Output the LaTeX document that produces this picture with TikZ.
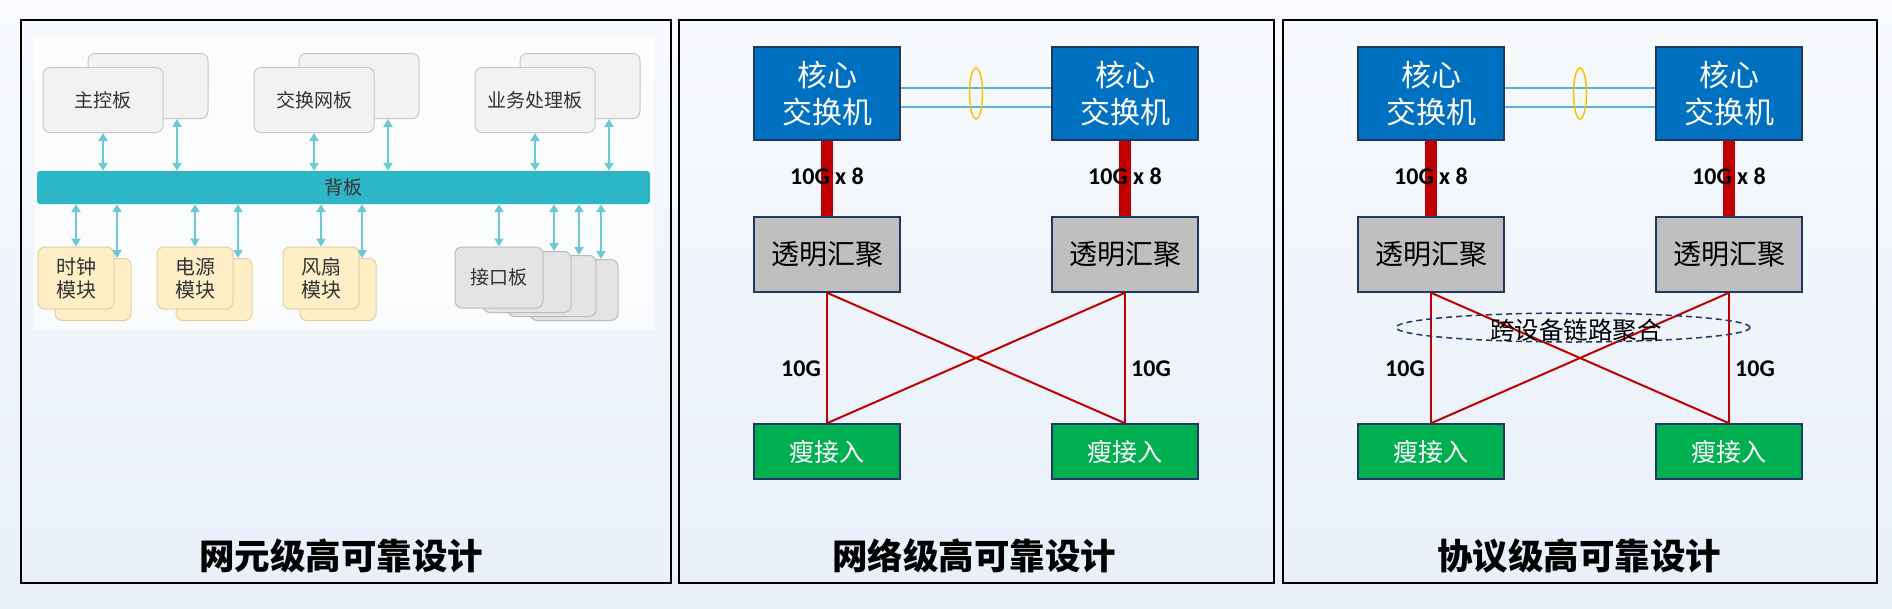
\documentclass[tikz,border=0pt]{standalone}
\usepackage{fontspec}
\setmainfont{Noto Sans CJK SC}
\newfontfamily\ratefont{Carlito}
\usepackage{tikz}
\usetikzlibrary{arrows.meta, shapes.geometric, calc}
\usepackage{xcolor}
\definecolor{bgtop}{HTML}{F8FAFD}
\definecolor{bgbot}{HTML}{E8EFF8}
\definecolor{cardfill}{HTML}{F2F2F2}
\definecolor{cardline}{HTML}{C8C8C8}
\definecolor{cardtext}{HTML}{333333}
\definecolor{modfill}{HTML}{FFEFC6}
\definecolor{modline}{HTML}{E3CF9E}
\definecolor{portfill}{HTML}{E4E4E4}
\definecolor{portline}{HTML}{BBBBBB}
\definecolor{busteal}{HTML}{6CC9D4}
\definecolor{bpteal}{HTML}{2DB6C8}
\definecolor{corebl}{HTML}{0070C0}
\definecolor{navy}{HTML}{1F3864}
\definecolor{agggray}{HTML}{BFBFBF}
\definecolor{accgreen}{HTML}{00B050}
\definecolor{linkred}{HTML}{C00000}
\definecolor{linkblue}{HTML}{5BB0E0}
\definecolor{lagyellow}{HTML}{FFC000}

\begin{document}
\begin{tikzpicture}[x=1pt, y=-1pt,
    panel/.style={draw=black, line width=1.6pt},
    board/.style={draw=cardline, fill=cardfill, rounded corners=7pt, line width=1pt,
      minimum width=120pt, minimum height=65pt, inner sep=0pt, text=cardtext,
      font=\fontsize{19}{23}\selectfont, align=center},
    module/.style={board, draw=modline, fill=modfill, minimum width=76pt, minimum height=62pt,
      font=\fontsize{20}{23}\selectfont},
    port/.style={board, draw=portline, fill=portfill, minimum width=88pt, minimum height=61pt},
    bus/.style={{Triangle[length=8pt,width=9pt]}-{Triangle[length=8pt,width=9pt]},
      draw=busteal, line width=2.5pt},
    dev/.style={draw=navy, line width=1.5pt, minimum width=146pt, inner sep=0pt,
      font=\fontsize{28}{34}\selectfont, align=center},
    core/.style={dev, fill=corebl, text=white, minimum height=93pt, font=\fontsize{30}{37}\selectfont},
    agg/.style={dev, fill=agggray, minimum height=75pt},
    acc/.style={dev, fill=accgreen, text=white, minimum height=55pt, font=\fontsize{25}{30}\selectfont},
    trunk/.style={draw=linkred, line width=12pt},
    uplink/.style={draw=linkred, line width=2pt},
    peer/.style={draw=linkblue, line width=1.5pt},
    lag/.style={ellipse, draw=lagyellow, line width=1.5pt, minimum width=13pt, minimum height=51pt, inner sep=0pt},
    rate/.style={font=\ratefont\bfseries\fontsize{24}{27}\selectfont},
    title/.style={font=\bfseries\fontsize{35.5}{40}\selectfont}
  ]
  \useasboundingbox (0,0) rectangle (1892,608);
  \shade[top color=bgtop, bottom color=bgbot] (0,0) rectangle (1892,608);

  % panels
  \draw[panel] (21,20) rectangle (671,583);
  \draw[panel] (679,20) rectangle (1274,583);
  \draw[panel] (1283,20) rectangle (1877,583);

  % element level
  \fill[white, opacity=.7] (34,35) rectangle (654,330);
  \node[board] (ctrlb) at (148,86) {};
  \node[board] (ctrl) at (103,100) {主控板};
  \node[board] (fabb) at (359,86) {};
  \node[board] (fab) at (314,100) {交换网板};
  \node[board] (svcb) at (580,86) {};
  \node[board] (svc) at (535,100) {业务处理板};
  \node[fill=bpteal, rounded corners=3pt, minimum width=613pt, minimum height=33pt,
    inner sep=0pt, text=cardtext, font=\fontsize{19}{23}\selectfont] (bp) at (343.5,187.5) {背板};

  \node[module] (clkb) at (93,289.5) {};
  \node[module] (clk) at (76,278) {时钟\\模块};
  \node[module] (pwrb) at (214,289.5) {};
  \node[module] (pwr) at (195,278) {电源\\模块};
  \node[module] (fanb) at (338,289.5) {};
  \node[module] (fan) at (321,278) {风扇\\模块};
  \node[port] (port3) at (574,290) {};
  \node[port] (port2) at (552,286) {};
  \node[port] (port1) at (527,282) {};
  \node[port] (port) at (499,277.5) {接口板};

  \foreach \b in {ctrl,fab,svc}{
    \draw[bus] (\b.south) -- (\b.south |- bp.north);
    \draw[bus] ([xshift=29pt]\b b.south) -- ([xshift=29pt]\b b.south |- bp.north);
  }
  \foreach \m in {clk,pwr,fan}{
    \draw[bus] (\m.north |- bp.south) -- (\m.north);
    \draw[bus] ([xshift=24pt]\m b.north |- bp.south) -- ([xshift=24pt]\m b.north);
  }
  \draw[bus] (port.north |- bp.south) -- (port.north);
  \foreach \p in {port1,port2,port3}
    \draw[bus] ([xshift=27pt]\p.north |- bp.south) -- ([xshift=27pt]\p.north);
  \node[title] (t1) at (341,556) {网元级高可靠设计};

  % network level
  \node[core] (coreA) at (827,93.5) {核心\\交换机};
  \node[core] (coreB) at (1125,93.5) {核心\\交换机};
  \node[agg] (aggA) at (827,254.5) {透明汇聚};
  \node[agg] (aggB) at (1125,254.5) {透明汇聚};
  \node[acc] (accA) at (827,451.5) {瘦接入};
  \node[acc] (accB) at (1125,451.5) {瘦接入};
  \draw[peer] ([yshift=5.5pt]coreA.east) -- ([yshift=5.5pt]coreB.west);
  \draw[peer] ([yshift=-13.5pt]coreA.east) -- ([yshift=-13.5pt]coreB.west);
  \node[lag] (lagA) at (976,93.5) {};
  \draw[trunk] (coreA.south) -- (aggA.north);
  \draw[trunk] (coreB.south) -- (aggB.north);
  \node[rate] (rA) at (827,176) {10G x 8};
  \node[rate] (rB) at (1125,176) {10G x 8};
  \draw[uplink] (aggA.south) -- (accA.north);
  \draw[uplink] (aggB.south) -- (accB.north);
  \draw[uplink] (aggA.south) -- (accB.north);
  \draw[uplink] (aggB.south) -- (accA.north);
  \node[rate] (uA) at (801,369) {10G};
  \node[rate] (uB) at (1151,369) {10G};
  \node[title] (t2) at (974,556) {网络级高可靠设计};

  % protocol level
  \node[core] (coreC) at (1431,93.5) {核心\\交换机};
  \node[core] (coreD) at (1729,93.5) {核心\\交换机};
  \node[agg] (aggC) at (1431,254.5) {透明汇聚};
  \node[agg] (aggD) at (1729,254.5) {透明汇聚};
  \node[acc] (accC) at (1431,451.5) {瘦接入};
  \node[acc] (accD) at (1729,451.5) {瘦接入};
  \draw[peer] ([yshift=5.5pt]coreC.east) -- ([yshift=5.5pt]coreD.west);
  \draw[peer] ([yshift=-13.5pt]coreC.east) -- ([yshift=-13.5pt]coreD.west);
  \node[lag] (lagC) at (1580,93.5) {};
  \draw[trunk] (coreC.south) -- (aggC.north);
  \draw[trunk] (coreD.south) -- (aggD.north);
  \node[rate] (rC) at (1431,176) {10G x 8};
  \node[rate] (rD) at (1729,176) {10G x 8};
  \draw[uplink] (aggC.south) -- (accC.north);
  \draw[uplink] (aggD.south) -- (accD.north);
  \draw[uplink] (aggC.south) -- (accD.north);
  \draw[uplink] (aggD.south) -- (accC.north);
  \node[ellipse, draw=navy, dashed, dash pattern=on 6pt off 4pt, line width=1.5pt,
    minimum width=354pt, minimum height=29pt, inner sep=0pt] (mlag) at (1573,327.5) {};
  \node[font=\fontsize{24.5}{27}\selectfont] (mlagtxt) at (1576,330) {跨设备链路聚合};
  \node[rate] (uC) at (1405,369) {10G};
  \node[rate] (uD) at (1755,369) {10G};
  \node[title] (t3) at (1579,556) {协议级高可靠设计};
\end{tikzpicture}
\end{document}
